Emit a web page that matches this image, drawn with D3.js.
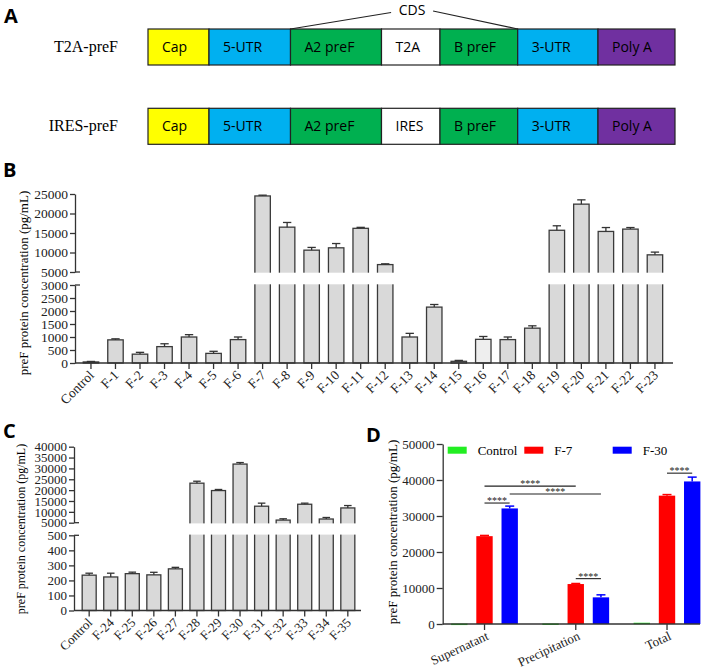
<!DOCTYPE html>
<html>
<head>
<meta charset="utf-8">
<script src="https://cdn.jsdelivr.net/npm/d3@7"></script>
<style>
  body { margin: 0; background: #fff; }
  svg { display: block; }
</style>
</head>
<body>
<div id="chart"></div>
<script>
// ---- data -------------------------------------------------------------
const constructs = ['T2A-preF', 'IRES-preF']
const t2aSegments = ['Cap', '5-UTR', 'A2 preF', 'T2A', 'B preF', '3-UTR', 'Poly A']
const iresSegments = ['Cap', '5-UTR', 'A2 preF', 'IRES', 'B preF', '3-UTR', 'Poly A']
const segLengths = [61, 81.5, 91, 58.5, 77.7, 80.3, 77]
const segKinds = ['cap', 'utr', 'pref', 'link', 'pref', 'utr', 'polya']

const bCats = ['Control', 'F-1', 'F-2', 'F-3', 'F-4', 'F-5', 'F-6', 'F-7', 'F-8', 'F-9', 'F-10', 'F-11',
  'F-12', 'F-13', 'F-14', 'F-15', 'F-16', 'F-17', 'F-18', 'F-19', 'F-20', 'F-21', 'F-22', 'F-23']
const bMeans = [40, 890, 340, 630, 1000, 370, 900, 24500, 16500, 10600, 11200, 16200,
  6900, 1000, 2150, 65, 910, 900, 1340, 15700, 22400, 15400, 16000, 9400]
const bErrs = [20, 40, 70, 110, 90, 80, 100, 200, 1200, 700, 1100, 250,
  200, 140, 100, 35, 110, 100, 90, 1150, 1100, 1000, 400, 700]
const bLowTicks = [0, 500, 1000, 1500, 2000, 2500, 3000]
const bHighTicks = [5000, 10000, 15000, 20000, 25000]

const cCats = ['Control', 'F-24', 'F-25', 'F-26', 'F-27', 'F-28', 'F-29', 'F-30', 'F-31', 'F-32', 'F-33', 'F-34', 'F-35']
const cMeans = [235, 223, 245, 237, 277, 23200, 19800, 32000, 12600, 6200, 13500, 6700, 11800]
const cErrs = [13, 25, 10, 17, 10, 900, 500, 700, 1400, 600, 500, 700, 1100]
const cLowTicks = [0, 100, 200, 300, 400, 500]
const cHighTicks = [5000, 10000, 15000, 20000, 25000, 30000, 35000, 40000]

const dGroups = ['Supernatant', 'Precipitation', 'Total']
const dSeries = ['Control', 'F-7', 'F-30']
const dControl = [120, 150, 350]
const dF7 = [24400, 11100, 35650]
const dF7Err = [200, 150, 300]
const dF30 = [32100, 7400, 39600]
const dF30Err = [650, 700, 1200]
const dTicks = [0, 10000, 20000, 30000, 40000, 50000]
// pairs compared, with the level of the bracket (pg/mL)
const dSig = [
  ['Supernatant', 'F-7', 'Supernatant', 'F-30', 33600],
  ['Supernatant', 'F-7', 'Precipitation', 'F-7', 38300],
  ['Supernatant', 'F-30', 'Precipitation', 'F-30', 36100],
  ['Precipitation', 'F-7', 'Precipitation', 'F-30', 12600],
  ['Total', 'F-7', 'Total', 'F-30', 41900]
]

// ---- setup ------------------------------------------------------------
const serif = '"Liberation Serif", "Times New Roman", serif'
const sans = '"Open Sans", "Liberation Sans", sans-serif'
const axisColor = '#333'
const segColors = { cap: '#ffff00', utr: '#00b0f0', pref: '#00b050', link: '#ffffff', polya: '#7030a0' }
const dColors = ['#22ee22', '#ff0000', '#0000ff']

const svg = d3.select('#chart').append('svg')
  .attr('width', 711)
  .attr('height', 667)

svg.selectAll('.plabel')
  .data([['A', 4, 23], ['B', 3, 177], ['C', 3, 438], ['D', 366, 442]])
  .enter().append('text')
  .attr('x', d => d[1])
  .attr('y', d => d[2])
  .style('font-family', sans)
  .attr('font-weight', 'bold')
  .attr('font-size', 20)
  .text(d => d[0])

// ---- panel A ----------------------------------------------------------
const segStarts = segLengths.map((d, i) => d3.sum(segLengths.slice(0, i)))
const segX = d3.scaleLinear().domain([0, d3.sum(segLengths)]).range([148, 675])
const rowY = d3.scaleBand().domain(constructs).range([29, 144.3]).paddingInner(0.546)

constructs.forEach((c, ri) => {
  const names = ri === 0 ? t2aSegments : iresSegments
  const y0 = rowY(c)
  const h = rowY.bandwidth()
  const g = svg.append('g')
  g.append('text')
    .attr('x', 118)
    .attr('y', y0 + h / 2 + 5)
    .attr('text-anchor', 'end')
    .style('font-family', serif)
    .attr('font-size', 16)
    .text(c)
  const seg = g.selectAll('g.seg').data(names).enter().append('g')
  seg.append('rect')
    .attr('x', (d, i) => segX(segStarts[i]))
    .attr('y', y0)
    .attr('width', (d, i) => segX(segLengths[i]) - segX(0))
    .attr('height', h)
    .attr('fill', (d, i) => segColors[segKinds[i]])
    .attr('stroke', '#222')
    .attr('stroke-width', 1.2)
  seg.append('text')
    .attr('x', (d, i) => segX(segStarts[i]) + 14)
    .attr('y', y0 + h / 2 + 5)
    .style('font-family', sans)
    .attr('font-size', 14)
    .text(d => d)
})

// CDS bracket over A2 preF .. B preF
const cdsL = segX(segStarts[2])
const cdsR = segX(segStarts[4] + segLengths[4])
const cdsMid = (cdsL + cdsR) / 2 + 8
const rowTop = rowY(constructs[0])
svg.append('path')
  .attr('d', `M${cdsL},${rowTop}L${cdsMid - 21},12.5M${cdsMid + 21},11L${cdsR},${rowTop}`)
  .attr('fill', 'none')
  .attr('stroke', '#222')
  .attr('stroke-width', 1.1)
svg.append('text')
  .attr('x', cdsMid)
  .attr('y', 15)
  .attr('text-anchor', 'middle')
  .style('font-family', sans)
  .attr('font-size', 14)
  .text('CDS')

// ---- broken-axis bar chart (B and C) ----------------------------------
function styleAxis (g, size) {
  g.attr('font-size', size)
  g.selectAll('path, line').attr('stroke', axisColor).attr('stroke-width', 1.3)
  g.selectAll('text').attr('fill', '#222').style('font-family', serif)
}

function brokenBars (o) {
  const g = svg.append('g')
  const loMax = o.yLo.domain()[1]
  const yOf = v => v <= loMax ? o.yLo(v) : o.yHi(v)
  const base = o.yLo(0)
  const bw = o.x.bandwidth()

  g.selectAll('rect.bar').data(o.cats).enter().append('rect')
    .attr('x', d => o.x(d))
    .attr('y', (d, i) => yOf(o.means[i]))
    .attr('width', bw)
    .attr('height', (d, i) => base - yOf(o.means[i]))
    .attr('fill', d => d === 'F-16' ? '#eeeeee' : '#d9d9d9')
    .attr('stroke', '#3a3a3a')
    .attr('stroke-width', 1.3)

  const err = g.selectAll('g.err').data(o.cats).enter().append('g')
    .attr('stroke', '#333')
    .attr('stroke-width', 1.3)
  err.append('line')
    .attr('x1', d => o.x(d) + bw / 2)
    .attr('x2', d => o.x(d) + bw / 2)
    .attr('y1', (d, i) => yOf(o.means[i]))
    .attr('y2', (d, i) => yOf(o.means[i] + o.errs[i]))
  err.append('line')
    .attr('x1', d => o.x(d) + bw / 2 - bw * 0.27)
    .attr('x2', d => o.x(d) + bw / 2 + bw * 0.27)
    .attr('y1', (d, i) => yOf(o.means[i] + o.errs[i]))
    .attr('y2', (d, i) => yOf(o.means[i] + o.errs[i]))

  // white gap across the break
  const gapTop = o.yHi.range()[0]
  const gapBot = o.yLo.range()[1]
  g.append('rect')
    .attr('x', o.axisX + 2)
    .attr('y', gapTop + 0.7)
    .attr('width', o.axisEnd - o.axisX)
    .attr('height', gapBot - gapTop - 1.4)
    .attr('fill', '#fff')

  const fmt = d3.format('d')
  const hi = g.append('g')
    .attr('transform', `translate(${o.axisX},0)`)
    .call(d3.axisLeft(o.yHi).tickValues(o.hiTicks).tickSize(5).tickSizeOuter(0).tickFormat(fmt))
  const lo = g.append('g')
    .attr('transform', `translate(${o.axisX},0)`)
    .call(d3.axisLeft(o.yLo).tickValues(o.loTicks).tickSize(5).tickSizeOuter(0).tickFormat(fmt))
  styleAxis(hi, o.fontSize)
  styleAxis(lo, o.fontSize)
  hi.selectAll('text').attr('x', -7)
  lo.selectAll('text').attr('x', -7)

  // break marks cross the axis
  g.selectAll('line.brk').data([gapTop, gapBot]).enter().append('line')
    .attr('x1', o.axisX).attr('x2', o.axisX + 5)
    .attr('y1', d => d).attr('y2', d => d)
    .attr('stroke', axisColor).attr('stroke-width', 1.3)

  const xa = g.append('g')
    .attr('transform', `translate(0,${base})`)
    .call(d3.axisBottom(o.x).tickSize(6).tickSizeOuter(0))
  xa.select('.domain').attr('d', `M${o.axisX},0H${o.axisEnd}`)
  styleAxis(xa, o.fontSize)
  xa.selectAll('text')
    .attr('x', null).attr('y', null).attr('dy', null)
    .attr('text-anchor', 'end')
    .attr('transform', 'translate(4,13) rotate(-45)')

  g.append('text')
    .attr('transform', `translate(${o.labelX},${o.labelY}) rotate(-90)`)
    .attr('text-anchor', 'middle')
    .style('font-family', serif)
    .attr('font-size', o.labelSize)
    .text('preF protein concentration (pg/mL)')
}

brokenBars({
  cats: bCats,
  means: bMeans,
  errs: bErrs,
  x: d3.scaleBand().domain(bCats).range([78.7, 667.2]).paddingInner(0.37).paddingOuter(0.185),
  yLo: d3.scaleLinear().domain([0, 3000]).range([363, 285]),
  yHi: d3.scaleLinear().domain([5000, 25000]).range([272, 194]),
  loTicks: bLowTicks,
  hiTicks: bHighTicks,
  axisX: 75,
  axisEnd: 673,
  fontSize: 13.5,
  labelX: 28,
  labelY: 283,
  labelSize: 13
})

brokenBars({
  cats: cCats,
  means: cMeans,
  errs: cErrs,
  x: d3.scaleBand().domain(cCats).range([78.4, 358.6]).paddingInner(0.35).paddingOuter(0.175),
  yLo: d3.scaleLinear().domain([0, 500]).range([610.5, 535.3]),
  yHi: d3.scaleLinear().domain([5000, 40000]).range([522.7, 446.7]),
  loTicks: cLowTicks,
  hiTicks: cHighTicks,
  axisX: 74,
  axisEnd: 361,
  fontSize: 13,
  labelX: 25,
  labelY: 529,
  labelSize: 12
})

// ---- panel D ----------------------------------------------------------
const dx0 = d3.scaleBand().domain(dGroups).range([438.9, 712.65])
const dx1 = d3.scaleBand().domain(dSeries).range([7.8, 83.4]).paddingInner(0.35).paddingOuter(0.175)
const dy = d3.scaleLinear().domain([0, 50000]).range([624, 444])
const dMeans = [dControl, dF7, dF30]
const dErrs = [[0, 0, 0], dF7Err, dF30Err]
const cx = (grp, s) => dx0(grp) + dx1(s) + dx1.bandwidth() / 2

const dg = svg.append('g')
dSeries.forEach((s, si) => {
  const sg = dg.append('g')
  sg.selectAll('rect').data(dGroups).enter().append('rect')
    .attr('x', d => dx0(d) + dx1(s))
    .attr('y', (d, i) => dy(dMeans[si][i]))
    .attr('width', dx1.bandwidth())
    .attr('height', (d, i) => Math.max(1.5, dy(0) - dy(dMeans[si][i])))
    .attr('fill', dColors[si])
  if (si > 0) {
    const e = sg.selectAll('g.err').data(dGroups).enter().append('g')
      .attr('stroke', dColors[si])
      .attr('stroke-width', 1.5)
    e.append('line')
      .attr('x1', d => cx(d, s)).attr('x2', d => cx(d, s))
      .attr('y1', (d, i) => dy(dMeans[si][i]))
      .attr('y2', (d, i) => dy(dMeans[si][i] + dErrs[si][i]))
    e.append('line')
      .attr('x1', d => cx(d, s) - 4.5).attr('x2', d => cx(d, s) + 4.5)
      .attr('y1', (d, i) => dy(dMeans[si][i] + dErrs[si][i]))
      .attr('y2', (d, i) => dy(dMeans[si][i] + dErrs[si][i]))
  }
})

const sig = dg.selectAll('g.sig').data(dSig).enter().append('g')
sig.append('line')
  .attr('x1', d => cx(d[0], d[1]))
  .attr('x2', d => cx(d[2], d[3]))
  .attr('y1', d => dy(d[4]))
  .attr('y2', d => dy(d[4]))
  .attr('stroke', '#222')
  .attr('stroke-width', 1.1)
sig.append('text')
  .attr('x', d => (cx(d[0], d[1]) + cx(d[2], d[3])) / 2)
  .attr('y', d => dy(d[4]) + 1)
  .attr('text-anchor', 'middle')
  .style('font-family', serif)
  .attr('font-size', 10)
  .attr('fill', '#222')
  .text('****')

const dya = dg.append('g')
  .attr('transform', 'translate(442.7,0)')
  .call(d3.axisLeft(dy).tickValues(dTicks).tickSize(6).tickSizeOuter(0).tickFormat(d3.format('d')))
styleAxis(dya, 13)
dya.selectAll('text').attr('x', -8)

const dxa = dg.append('g')
  .attr('transform', `translate(0,${dy(0)})`)
  .call(d3.axisBottom(dx0).tickSize(6).tickSizeOuter(0))
dxa.select('.domain').attr('d', 'M442.7,0H700')
styleAxis(dxa, 13)
dxa.selectAll('text')
  .attr('x', null).attr('y', null).attr('dy', null)
  .attr('text-anchor', 'end')
  .attr('transform', 'translate(5,15) rotate(-25)')

dg.append('text')
  .attr('transform', 'translate(397,532) rotate(-90)')
  .attr('text-anchor', 'middle')
  .style('font-family', serif)
  .attr('font-size', 13)
  .text('preF protein concentration (pg/mL)')

const lg = dg.selectAll('g.leg').data(dSeries).enter().append('g')
  .attr('transform', (d, i) => `translate(${[447.7, 524.3, 612.7][i]},446.7)`)
lg.append('rect')
  .attr('width', 19)
  .attr('height', 7)
  .attr('fill', (d, i) => dColors[i])
lg.append('text')
  .attr('x', 30)
  .attr('y', 8)
  .style('font-family', serif)
  .attr('font-size', 13)
  .text(d => d)
</script>
</body>
</html>
